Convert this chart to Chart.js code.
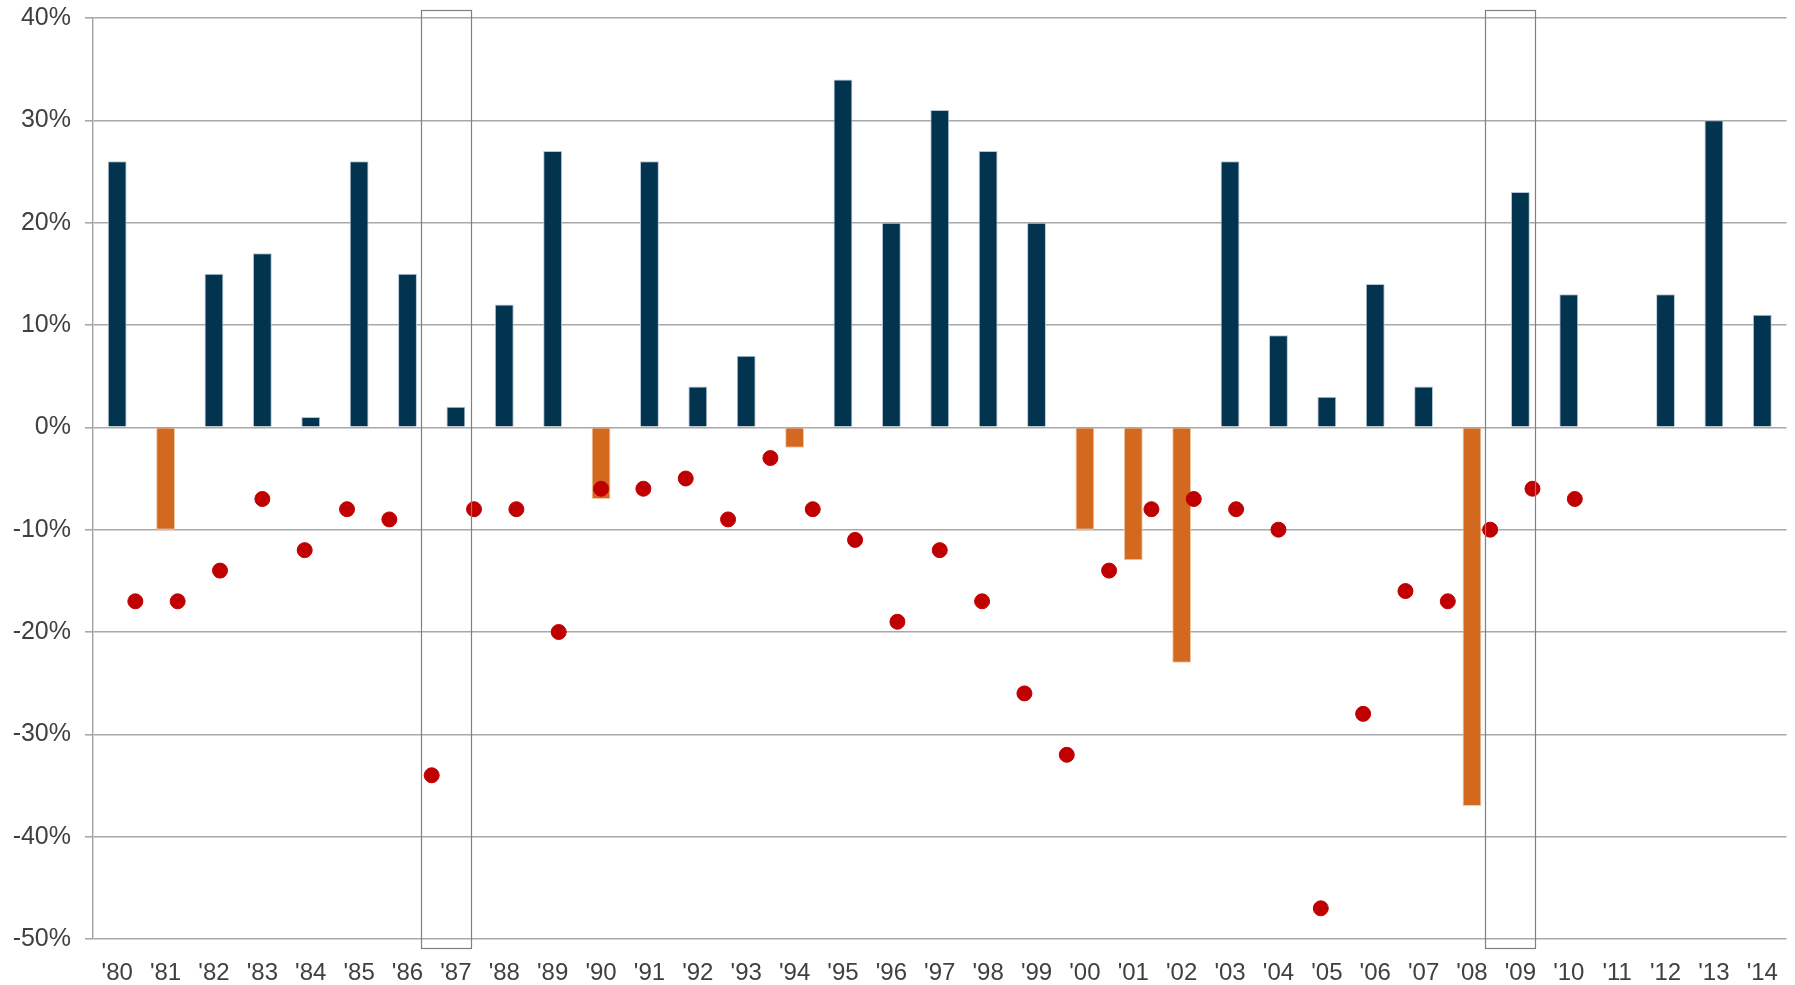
<!DOCTYPE html>
<html>
<head>
<meta charset="utf-8">
<script src="https://cdn.jsdelivr.net/npm/chart.js@4.4.1/dist/chart.umd.min.js"></script>
<style>
    html, body { margin: 0; padding: 0; background: #fff; }
    #wrap { width: 1795px; height: 985px; }
</style>
</head>
<body>
<div id="wrap"><canvas id="chart"></canvas></div>
<script>
// calendar year labels
var years = ["'80", "'81", "'82", "'83", "'84", "'85", "'86", "'87", "'88", "'89",
    "'90", "'91", "'92", "'93", "'94", "'95", "'96", "'97", "'98", "'99",
    "'00", "'01", "'02", "'03", "'04", "'05", "'06", "'07", "'08", "'09",
    "'10", "'11", "'12", "'13", "'14"];

// annual returns (%)
var annualReturns = [26, -10, 15, 17, 1, 26, 15, 2, 12, 27,
    -7, 26, 4, 7, -2, 34, 20, 31, 27, 20,
    -10, -13, -23, 26, 9, 3, 14, 4, -37, 23,
    13, 0, 13, 30, 11];

// intra-year declines (%)
var intraYearDeclines = [-17, -17, -14, -7, -12, -8, -9, -34, -8, -8,
    -20, -6, -6, -5, -9, -3, -8, -11, -19, -12,
    -17, -26, -32, -14, -8, -7, -8, -10, -47, -28,
    -16, -17, -10, -6, -7];

// highlighted years
var highlighted = ["'87", "'09"];

var yTicks = [-50, -40, -30, -20, -10, 0, 10, 20, 30, 40];

var NAVY = '#02334f';
var ORANGE = '#d3691f';
var RED = '#c00000';

var barColors = annualReturns.map(function (v) { return v < 0 ? ORANGE : NAVY; });
var barBorders = annualReturns.map(function (v) { return v < 0 ? '#f0c8a8' : '#b4c6d6'; });

var declinePoints = intraYearDeclines.map(function (v, i) { return { x: i, y: v }; });

// outline boxes around the highlighted years
var highlightBoxes = {
    id: 'highlightBoxes',
    afterDatasetsDraw: function (chart) {
        var ctx = chart.ctx;
        var x = chart.scales.x;
        var area = chart.chartArea;
        ctx.save();
        ctx.strokeStyle = '#808080';
        ctx.lineWidth = 1.2;
        highlighted.forEach(function (label) {
            var idx = years.indexOf(label);
            var left = x.getPixelForValue(idx - 0.73);
            var right = x.getPixelForValue(idx + 0.31);
            ctx.strokeRect(Math.round(left) + 0.5, area.top - 8 + 0.5,
                Math.round(right - left), area.bottom - area.top + 17);
        });
        ctx.restore();
    }
};

var ctx = document.getElementById('chart');
var chart = new Chart(ctx, {
    data: {
        labels: years,
        datasets: [{
            type: 'scatter',
            label: 'Intra-year decline',
            data: declinePoints,
            xAxisID: 'x2',
            backgroundColor: RED,
            borderColor: RED,
            pointRadius: 7.5,
            pointHoverRadius: 7.5,
            order: 0
        }, {
            type: 'bar',
            label: 'Calendar year return',
            data: annualReturns,
            xAxisID: 'x',
            grouped: false,
            backgroundColor: barColors,
            borderColor: barBorders,
            borderWidth: 1,
            categoryPercentage: 1,
            barPercentage: 0.39,
            order: 1
        }]
    },
    plugins: [highlightBoxes],
    options: {
        responsive: true,
        maintainAspectRatio: false,
        animation: false,
        layout: {
            padding: { top: 18, right: 5, left: 0, bottom: 0 }
        },
        plugins: {
            legend: { display: false },
            tooltip: { enabled: false }
        },
        scales: {
            x: {
                type: 'category',
                offset: true,
                grid: { display: false, drawTicks: false },
                border: { display: false },
                ticks: {
                    color: '#404040',
                    font: { family: 'Liberation Sans', size: 24 },
                    padding: 20,
                    maxRotation: 0,
                    autoSkip: false
                },
                afterFit: function (scale) {
                    scale.height = 46;
                    scale.paddingLeft = 0;
                    scale.paddingRight = 0;
                }
            },
            x2: {
                type: 'linear',
                min: -1,
                max: 39,
                display: false
            },
            y: {
                min: -50,
                max: 40,
                afterBuildTicks: function (scale) {
                    scale.ticks = yTicks.map(function (v) { return { value: v }; });
                },
                grid: {
                    color: '#a8a8a8',
                    lineWidth: 1.6,
                    tickLength: 8
                },
                border: { display: true, color: '#a0a0a0', width: 1.4 },
                ticks: {
                    color: '#404040',
                    font: { family: 'Liberation Sans', size: 25 },
                    padding: 14,
                    callback: function (v) { return v + '%'; }
                },
                afterFit: function (scale) {
                    scale.width = 93;
                    scale.paddingTop = 0;
                    scale.paddingBottom = 0;
                }
            }
        }
    }
});
</script>
</body>
</html>
